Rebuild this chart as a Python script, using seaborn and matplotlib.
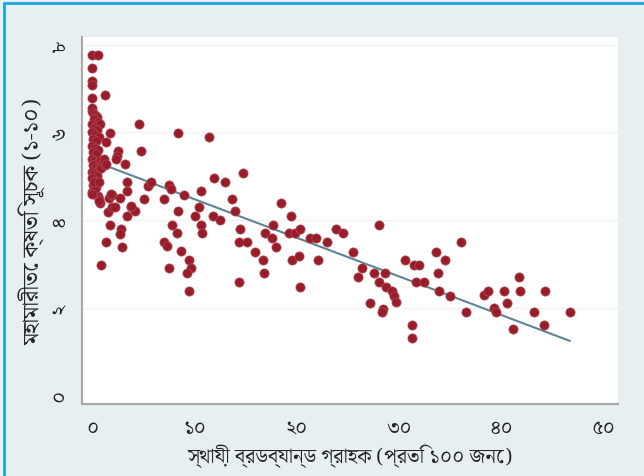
import matplotlib
matplotlib.use("Agg")
import matplotlib.pyplot as plt
from matplotlib import font_manager
from matplotlib.lines import Line2D
import seaborn as sns
import pandas as pd

# broadband subscriptions per 100 people (x) vs pandemic damage index (y)
broadband = [
    0.0, 0.6, 0.0, 0.0, 0.0, 0.0, 1.25, 0.0,
    0.0, 0.1, 0.3, 0.5, 0.2, 0.6, 0.0, 0.4, 0.8, 0.2, 0.5, 0.0, 0.3, 0.7,
    0.1, 0.4, 0.0, 0.3, 0.6, 0.1, 0.4, 0.0, 0.2, 0.5, 0.8, 1.1, 0.1, 0.3,
    0.6, 0.9, 1.3, 0.0, 0.2, 0.5, 0.0, 0.3, 0.1, 0.4, 0.0, 0.2, 0.6, 0.3,
    1.76, 1.35, 4.62, 4.83, 2.5, 2.45, 2.3, 3.27, 1.17, 1.34,
    8.37, 11.47, 14.8, 11.95, 13.0, 13.67, 14.0,
    10.67, 8.94, 7.5, 7.7, 7.06, 8.4,
    10.47, 10.06, 10.67, 10.75, 11.87, 12.47,
    7.8, 8.26, 7.05, 7.3, 8.66, 9.5, 9.67, 9.26, 7.48, 9.46,
    14.48, 14.4, 15.1, 15.9, 16.7, 16.8, 14.4,
    16.9, 17.7, 17.6, 17.97, 18.5, 19.4, 19.2, 19.8, 20.3, 19.57, 20.2, 20.3,
    21.3, 21.9, 22.1, 22.98, 23.8, 24.5, 25.5, 26.4, 26.0,
    27.6, 28.0, 28.6, 28.0, 28.7, 29.3, 29.5, 29.7, 27.2, 28.4, 28.3,
    30.6, 31.5, 32.0, 31.7, 32.4, 31.3, 31.3,
    33.6, 34.5, 33.8, 33.9, 35.0, 36.05, 36.5,
    38.3, 38.7, 39.3, 39.5, 40.3, 40.6, 41.75, 41.8, 41.1, 43.2, 44.3, 44.2, 46.7,
    0.84, 1.36, 1.76, 1.52, 1.92, 1.64, 1.92, 0.64, 0.76, 2.73, 2.25, 3.37,
    3.77, 4.17, 2.85, 2.73, 2.93, 3.37, 3.45, 5.05, 5.5, 5.75, 0.2, 0.68,
    0.03, 0.68, 1.82, 3.84,
]
damage = [
    7.78, 7.78, 7.47, 7.18, 7.08, 6.78, 6.86, 6.5,
    6.55, 6.45, 6.4, 6.35, 6.3, 6.25, 6.2, 6.15, 6.2, 6.1, 6.05, 6.0, 5.95, 5.9,
    5.85, 5.8, 5.7, 5.65, 5.6, 5.55, 5.5, 5.4, 5.35, 5.3, 5.35, 5.3, 5.25, 5.2,
    5.15, 5.2, 5.25, 5.1, 5.05, 5.0, 4.95, 4.9, 4.8, 4.75, 4.65, 4.6, 4.55, 4.7,
    5.98, 5.79, 6.19, 5.58, 5.58, 5.47, 5.39, 5.28, 5.39, 5.28,
    5.98, 5.89, 5.07, 4.97, 4.88, 4.48, 4.2,
    4.67, 4.58, 4.79, 4.7, 4.48, 4.2,
    4.29, 4.1, 3.89, 3.7, 4.1, 4.0,
    3.89, 3.7, 3.5, 3.4, 3.29, 3.08, 2.9, 2.79, 2.9, 2.37,
    3.79, 3.49, 3.49, 3.28, 3.09, 2.79, 2.58,
    3.7, 3.89, 3.59, 3.39, 4.39, 4.1, 3.7, 3.7, 3.79, 3.09, 3.18, 2.48,
    3.59, 3.59, 3.09, 3.49, 3.79, 3.7, 3.28, 2.9, 2.69,
    2.79, 3.89, 2.79, 2.58, 2.48, 2.38, 2.27, 2.12, 2.1, 1.97, 1.9,
    3.09, 2.98, 2.98, 2.58, 2.58, 1.61, 1.30,
    3.28, 3.09, 2.79, 2.37, 2.27, 3.49, 1.89,
    2.28, 2.38, 2.0, 1.89, 2.37, 2.1, 2.69, 2.37, 1.51, 1.9, 2.37, 1.61, 1.9,
    2.98, 3.49, 3.89, 4.19, 4.29, 4.5, 4.57, 4.48, 4.39, 4.5, 4.29, 4.1,
    4.29, 4.2, 3.79, 3.68, 3.39, 4.88, 4.67, 4.48, 4.78, 4.86, 4.86, 4.86,
    4.59, 4.44, 4.59, 4.31,
]

# fitted line end points
fit_x = [0.0, 46.7]
fit_y = [5.36, 1.24]

x_ticks = [0, 10, 20, 30, 40, 50]
x_ticklabels = ["০", "১০", "২০", "৩০", "৪০", "৫০"]
y_ticks = [0, 2, 4, 6, 8]
y_ticklabels = ["০", "২", "৪", "৬", "৮"]
x_title = "স্থায়ী ব্রডব্যান্ড গ্রাহক (প্রতি ১০০ জনে)"
y_title = "মহামারীতে ক্ষতি সূচক (১-১০)"

# pick an installed font that has Bengali glyphs
available = {f.name for f in font_manager.fontManager.ttflist}
bn_pref = ["Noto Serif Bengali", "Tiro Bangla", "Noto Sans Bengali", "Hind Siliguri", "Lohit Bengali"]
bn_font = next((n for n in bn_pref if n in available), "DejaVu Sans")

df = pd.DataFrame({"broadband": broadband, "damage": damage})
fit = pd.DataFrame({"x": fit_x, "y": fit_y})

sns.set_style("white")
plt.rcParams["font.family"] = [bn_font, "DejaVu Sans"]

bg = "#e7eff1"
axis_grey = "#a9a9a9"
fig = plt.figure(figsize=(6.44, 4.77), dpi=100, facecolor=bg)
ax = fig.add_axes([82 / 644, 1 - 405 / 477, 536 / 644, 367 / 477])
ax.set_facecolor("white")

for yv in [2, 4, 6, 8]:
    ax.axhline(yv, color="#f1f1f1", lw=1.0, zorder=0)

sns.lineplot(data=fit, x="x", y="y", ax=ax, color="#5f8396", lw=1.5, zorder=2)
sns.scatterplot(data=df, x="broadband", y="damage", ax=ax, color="#971d2b",
                s=44, edgecolor="#b04a52", linewidth=0.5, alpha=1, zorder=3)

ax.set_xlim(-0.98, 51.4)
ax.set_ylim(-0.2, 8.18)
ax.set_xticks(x_ticks)
ax.set_xticklabels(x_ticklabels, fontsize=14.5)
ax.set_yticks(y_ticks)
ax.set_yticklabels(y_ticklabels, fontsize=14.5, rotation=90, va="center")
ax.tick_params(axis="x", direction="out", length=4, width=1, color=axis_grey, pad=6)
ax.tick_params(axis="y", direction="out", length=4, width=1, color=axis_grey, pad=5)
ax.set_xlabel(x_title, fontsize=14.5, labelpad=4)
ax.set_ylabel(y_title, fontsize=16, labelpad=3)

for side in ["top", "right"]:
    ax.spines[side].set_visible(False)
for side in ["left", "bottom"]:
    ax.spines[side].set_color(axis_grey)
    ax.spines[side].set_linewidth(1.5)

# blue frame at the top and left edges
fig.add_artist(Line2D([4 / 644, 4 / 644], [0, 1 - 4 / 477], color="#1aa3e8", lw=2))
fig.add_artist(Line2D([4 / 644, 1], [1 - 4 / 477, 1 - 4 / 477], color="#1aa3e8", lw=2))

fig.savefig("out.png", dpi=100, facecolor=bg)
